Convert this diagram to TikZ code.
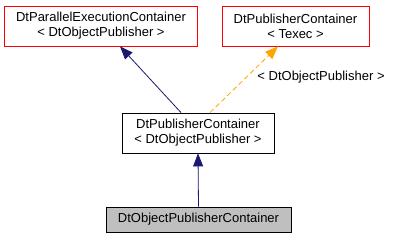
\documentclass[tikz,border=0pt]{standalone}
\usepackage{fontspec}
\setmainfont{Liberation Sans}
\usetikzlibrary{arrows.meta}
\definecolor{navy}{HTML}{191970}
\definecolor{orng}{HTML}{FFA500}
\definecolor{gry}{HTML}{BFBFBF}
\begin{document}
\begin{tikzpicture}[x=1pt,y=1pt,
  txt/.style={font=\fontsize{13}{15}\selectfont},
  cls/.style={draw=#1, line width=0.8pt, inner sep=0pt, align=center, txt},
  inh/.style={draw=navy, line width=0.8pt, -{Triangle[length=13pt,width=10pt,fill=navy]}},
  tmpl/.style={draw=orng, line width=0.8pt, dash pattern=on 5pt off 3pt, -{Triangle[length=13pt,width=10pt,fill=orng]}}]
\useasboundingbox (0,0) rectangle (393,237);
\node[cls=red, minimum width=193pt, minimum height=40pt] (pe) at (101,211) {DtParallelExecutionContainer\\< DtObjectPublisher >};
\node[cls=red, minimum width=147pt, minimum height=40pt] (pt) at (295.5,211) {DtPublisherContainer\\< Texec >};
\node[cls=black, minimum width=152pt, minimum height=40pt] (pc) at (198,104) {DtPublisherContainer\\< DtObjectPublisher >};
\node[cls=black, fill=gry, minimum width=185pt, minimum height=25pt] (op) at (198.5,17.5) {DtObjectPublisherContainer};
\draw[inh] (op.north) -- (pc.south);
\draw[inh] (pc.north -| 181,0) -- (pe.south -| 120,0);
\draw[tmpl] (pc.north -| 210,0) -- node[pos=0.53, anchor=west, txt, inner sep=0pt, xshift=11pt] {< DtObjectPublisher >} (pt.south -| 278,0);
\end{tikzpicture}
\end{document}
